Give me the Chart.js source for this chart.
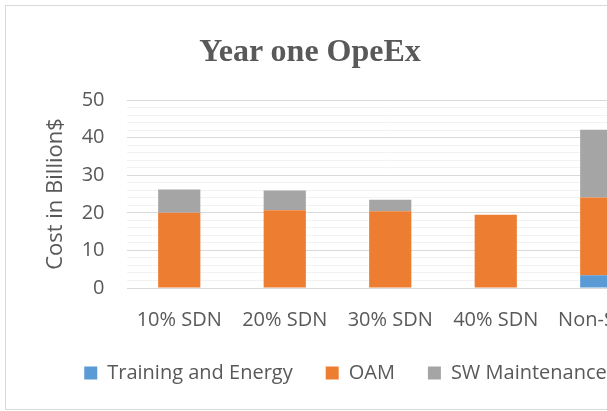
<!DOCTYPE html>
<html>
<head>
<meta charset="utf-8">
<script src="https://cdn.jsdelivr.net/npm/chart.js@4.4.0/dist/chart.umd.min.js"></script>
<style>
  html, body { margin: 0; padding: 0; background: #fff; overflow: hidden; }
  #frame { position: absolute; left: 5px; top: 5px; width: 900px; height: 403px; border: 1px solid #d9d9d9; }
  #wrap { position: absolute; left: 0; top: 0; width: 681px; height: 403px; }
  #titulo { position: absolute; left: 10px; top: 34px; width: 600px; text-align: center;
    font: bold 32px/32px "Liberation Serif", serif; color: #595959; }
</style>
</head>
<body>
<div id="frame">
  <div id="wrap"><canvas id="barChart"></canvas></div>
</div>
<div id="titulo">Year one OpeEx</div>
<script>
  const categorias = ['10% SDN', '20% SDN', '30% SDN', '40% SDN', 'Non-SDN'];
  const data_training = [0, 0, 0, 0, 3.4];
  const data_oam = [20.0, 20.7, 20.4, 19.5, 20.7];
  const data_sw = [6.2, 5.2, 3.1, 0, 18.0];
  const ticks_y = [0, 10, 20, 30, 40, 50];

  const fuente = { family: '"Open Sans", sans-serif', size: 20 };

  window['grafico'] = new Chart(document.getElementById('barChart').getContext('2d'), {
    type: 'bar',
    data: {
      labels: categorias,
      datasets: [
        { label: 'Training and Energy', backgroundColor: '#5B9BD5', data: data_training },
        { label: 'OAM', backgroundColor: '#ED7D31', data: data_oam },
        { label: 'SW Maintenance', backgroundColor: '#A5A5A5', data: data_sw },
      ],
    },
    options: {
      responsive: true,
      maintainAspectRatio: false,
      animation: false,
      layout: { padding: { top: 94, left: 31, right: 33, bottom: 16 } },
      datasets: { bar: { categoryPercentage: 1, barPercentage: 0.4 } },
      plugins: {
        tooltip: { enabled: false },
        legend: {
          position: 'bottom',
          labels: { font: fuente, color: '#595959', boxWidth: 13, boxHeight: 13, padding: 33 },
        },
      },
      scales: {
        x: {
          stacked: true,
          afterFit: (scale) => { scale.height = 42; },
          grid: { display: false },
          border: { display: false },
          ticks: { font: fuente, color: '#595959', padding: 12, maxRotation: 0, autoSkip: false },
        },
        y: {
          stacked: true,
          min: 0,
          max: 50,
          afterFit: (scale) => { scale.width = 89.5; },
          border: { display: false },
          grid: {
            drawTicks: false,
            color: (ctx) => (ctx.tick && ticks_y.includes(ctx.tick.value) ? '#d9d9d9' : '#f2f2f2'),
          },
          ticks: {
            stepSize: 2,
            autoSkip: false,
            padding: 22,
            font: fuente,
            color: '#595959',
            callback: (v) => (ticks_y.includes(v) ? v : ''),
          },
          title: {
            display: true,
            text: 'Cost in Billion$',
            font: { family: '"Open Sans", sans-serif', size: 22 },
            color: '#595959',
            padding: { top: 6, bottom: 0 },
          },
        },
      },
    },
  });
</script>
</body>
</html>
